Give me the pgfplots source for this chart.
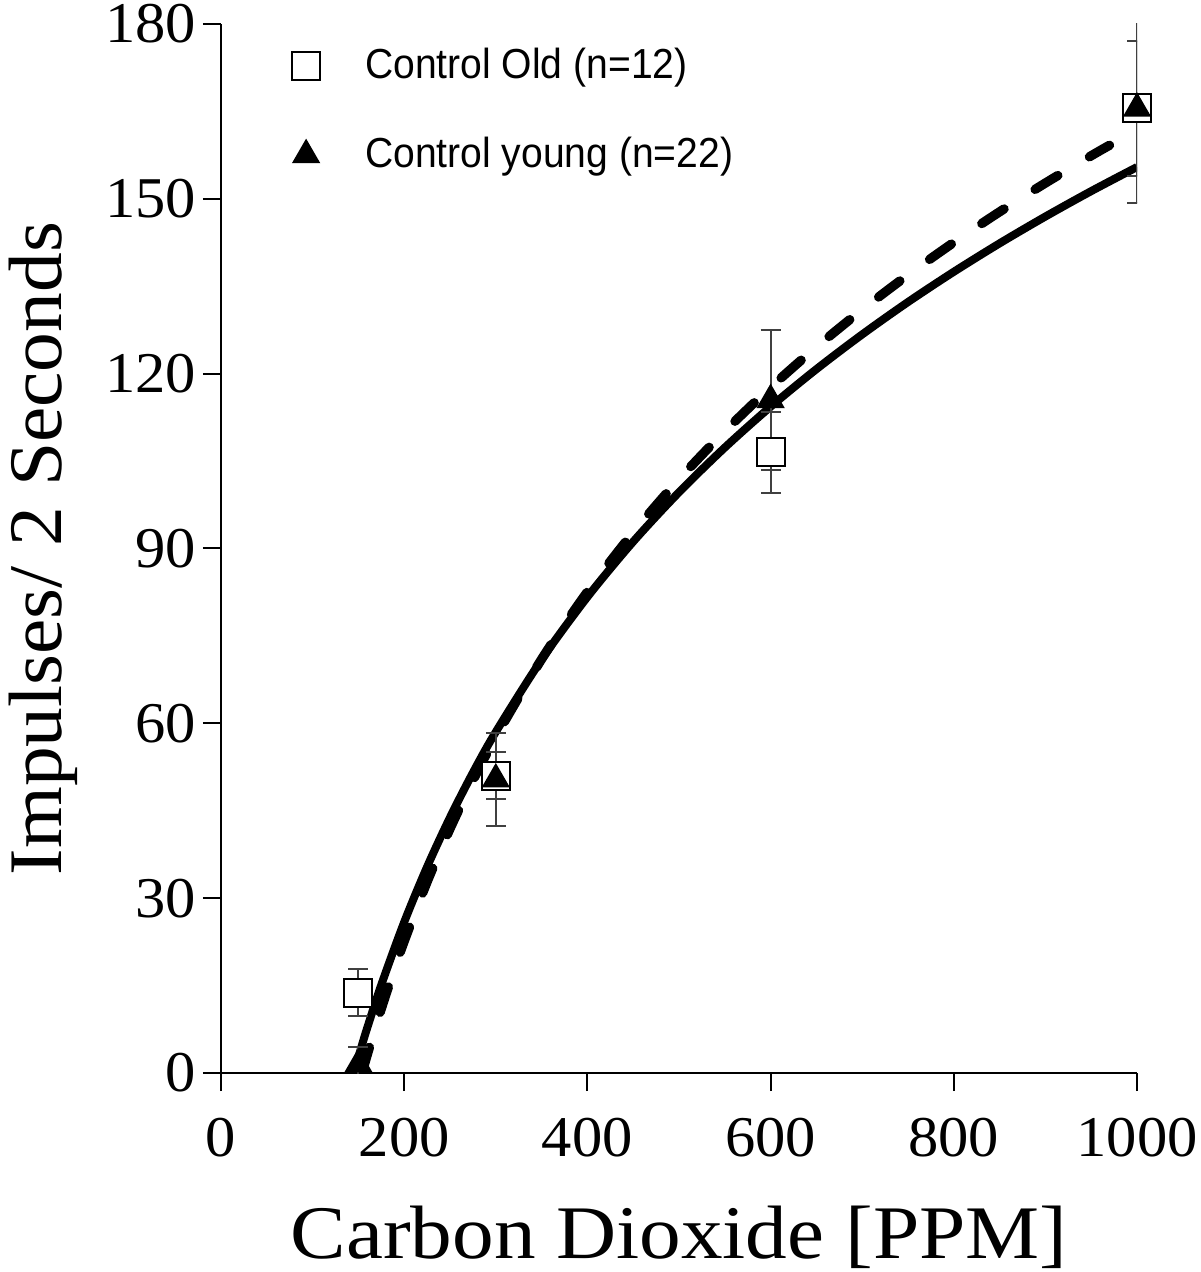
\documentclass[border=0pt]{standalone}
\usepackage{fontspec}
\setmainfont{Liberation Serif}
\newfontfamily\legfont[FakeStretch=0.93]{Liberation Sans}
\newfontfamily\xlabfont[FakeStretch=1.1]{Liberation Serif}
\newfontfamily\ylabfont[FakeStretch=1.05]{Liberation Serif}
\usepackage{pgfplots}
\pgfplotsset{compat=1.18}
\usetikzlibrary{calc}

\begin{document}
\begin{tikzpicture}
\begin{axis}[name=ax,
 scale only axis, width=274.8pt, height=314.7pt,
 xmin=0, xmax=1000, ymin=0, ymax=180,
 axis lines=left, axis line style={-, line width=0.6pt},
 tick align=outside, major tick length=5.4pt, tick style={line width=0.6pt, black},
 xtick={0,200,...,1000}, ytick={0,30,...,180},
 /pgf/number format/assume math mode=true,
 /pgf/number format/1000 sep={},
 ticklabel style={font=\ylabfont\fontsize{17.3}{20}\selectfont},
 xticklabel style={yshift=-4.5pt},
 yticklabel style={xshift=1.5pt},
 xlabel={Carbon Dioxide [PPM]}, ylabel={Impulses/ 2 Seconds},
 xlabel style={font=\xlabfont\fontsize{22.7}{27}\selectfont, yshift=-8pt},
 ylabel style={font=\ylabfont\fontsize{22.7}{27}\selectfont, yshift=1.5pt},
 clip=true,
 legend style={draw=none, fill=none, at={(axis description cs:0.066,0.99)}, anchor=north west,
   font=\legfont\fontsize{12.6}{15}\selectfont, row sep=12pt,
   /tikz/every odd column/.append style={column sep=11.5pt}},
 legend cell align=left,
]
% fitted curves
\addplot[forget plot, black, line width=2.4pt, smooth] coordinates {
(145,0) (147,1.10) (150,2.73) (155,5.37) (160,7.92) (175,15.13) (200,25.89) (225,35.37)
(250,43.85) (275,51.53) (300,58.52) (350,70.94) (400,81.68) (450,91.17) (500,99.65)
(550,107.32) (600,114.33) (650,120.77) (700,126.73) (750,132.29) (800,137.48)
(850,142.36) (900,146.96) (950,151.32) (1000,155.45)};
\addplot[forget plot, black, line width=2.8pt, line cap=round, dash pattern=on 8pt off 11pt, smooth] coordinates {
(154,0) (157,1.67) (160,3.31) (170,8.55) (185,15.86) (200,22.61) (225,32.80) (250,41.91)
(275,50.15) (300,57.68) (350,71.01) (400,82.57) (450,92.75) (500,101.87) (550,110.11)
(600,117.64) (650,124.56) (700,130.97) (750,136.94) (800,142.52) (850,147.77)
(900,152.71) (950,157.39) (970,159.19)};
% data
\addplot[only marks, mark=square*, mark size=4.2pt,
  mark options={fill=white, draw=black, line width=0.6pt},
  error bars/.cd, y dir=both, y explicit,
  error bar style={line width=0.6pt, black!75},
  error mark options={rotate=90, mark size=3pt, line width=0.6pt, black!75}]
 coordinates {(150,13.8) +- (0,4) (300,51.0) +- (0,4) (600,106.5) +- (0,7) (1000,165.5) +- (0,11.5)};
\addlegendentry{Control Old (n=12)}
\addplot[only marks, mark=triangle*, mark size=4.5pt,
  mark options={fill=black, draw=black},
  error bars/.cd, y dir=both, y explicit,
  error bar style={line width=0.6pt, black!75},
  error mark options={rotate=90, mark size=3pt, line width=0.6pt, black!75}]
 coordinates {(150,1.5) +- (0,3) (300,50.4) +- (0,8) (600,115.5) +- (0,12) (1000,165.5) +- (0,16.3)};
\addlegendentry{Control young (n=22)}
\end{axis}
\pgfresetboundingbox
\path[use as bounding box] ($(ax.south west)+(-66.3pt,-59.7pt)$) rectangle ++(360pt,381.6pt);
\end{tikzpicture}
\end{document}
